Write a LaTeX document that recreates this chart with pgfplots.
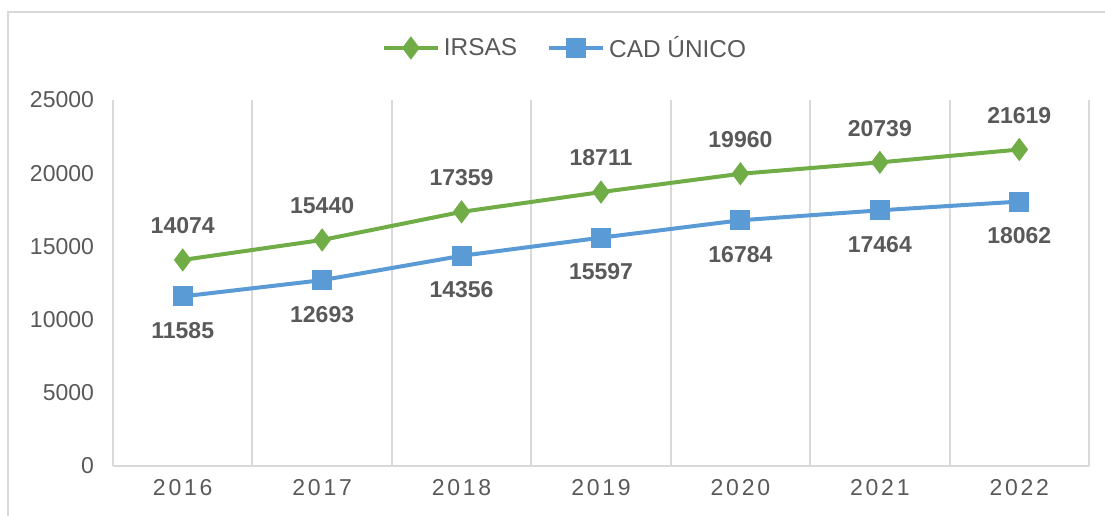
\documentclass[border=0pt]{standalone}
\usepackage{fontspec}
\setmainfont{Liberation Sans}
\usepackage{pgfplots}
\pgfplotsset{compat=1.18}
\definecolor{irsas}{HTML}{70AD47}
\definecolor{cad}{HTML}{5B9BD5}
\definecolor{txt}{HTML}{595959}
\definecolor{gridc}{HTML}{D9D9D9}

\begin{document}
\begin{tikzpicture}
% canvas 1105 x 515 px, 1px = 0.5pt
\path[use as bounding box] (0,0) rectangle (552.5pt,257.5pt);
\draw[gridc, line width=0.9pt] (4pt,-10pt) -- (4pt,251.5pt) -- (560pt,251.5pt);
\begin{axis}[
    at={(56.5pt,24.5pt)}, anchor=south west,
    scale only axis,
    width=488pt, height=183pt,
    xmin=-0.5, xmax=6.5,
    ymin=0, ymax=25000,
    ytick={0,5000,...,25000},
    xtick={0,...,6},
    xticklabels={2016,2017,2018,2019,2020,2021,2022},
    minor xtick={-0.5,0.5,...,6.5},
    xminorgrids=true,
    minor grid style={gridc, line width=1pt},
    major tick length=0pt, minor tick length=0pt,
    axis x line*=bottom,
    axis y line*=left,
    x axis line style={gridc, line width=1pt, -},
    y axis line style={draw=none},
    scaled y ticks=false,
    /pgf/number format/assume math mode=true,
    /pgf/number format/fixed,
    /pgf/number format/1000 sep={},
    ticklabel style={font=\fontsize{11.5}{13}\selectfont, text=txt},
    yticklabel style={xshift=-6pt},
    xticklabel style={font=\fontsize{11.5}{13}\selectfont\addfontfeature{LetterSpace=12}, yshift=-3pt},
    legend columns=2,
    legend style={at={(0.5,1)}, anchor=center, xshift=-17.5pt, yshift=26pt,
        draw=none, fill=none, font=\fontsize{12.2}{14}\selectfont, text=txt,
        /tikz/every even column/.append style={column sep=13pt},
        /tikz/every odd column/.append style={inner xsep=1pt}},
    legend image code/.code={
        \draw[#1, mark=none] (0cm,0cm) -- (27pt,0cm);
        \draw[#1, only marks] plot coordinates {(13.5pt,0cm)};
    },
    nodes near coords,
    nodes near coords style={font=\bfseries\fontsize{11.5}{13}\selectfont, text=txt,
        anchor=center},
]
\addplot[irsas, line width=2pt, mark=diamond*, mark size=4.2pt,
    mark options={solid},
    every node near coord/.append style={yshift=17pt}]
    coordinates {(0,14074) (1,15440) (2,17359) (3,18711) (4,19960) (5,20739) (6,21619)};
\addlegendentry{IRSAS}
\addplot[cad, line width=2pt, mark=square*, mark size=4pt,
    mark options={solid},
    every node near coord/.append style={yshift=-17pt}]
    coordinates {(0,11585) (1,12693) (2,14356) (3,15597) (4,16784) (5,17464) (6,18062)};
\addlegendentry{CAD ÚNICO}
\end{axis}
\end{tikzpicture}
\end{document}
